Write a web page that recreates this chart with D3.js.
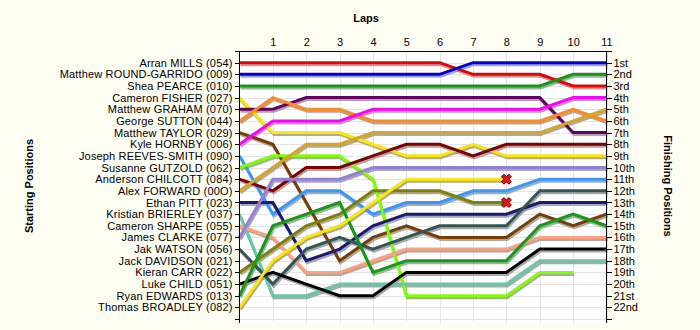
<!DOCTYPE html>
<html>
<head>
<meta charset="utf-8">
<script src="https://cdn.jsdelivr.net/npm/d3@7"></script>
<style>
  html, body { margin: 0; padding: 0; background: #fefdf2; }
  svg { display: block; font-family: "Liberation Sans", Arial, sans-serif; }
  .axis text { font-size: 11px; fill: #000; }
  .axis.left text { letter-spacing: 0.15px; }
  .axis path, .axis line { stroke: #000; shape-rendering: crispEdges; }
  .title { font-size: 11px; font-weight: bold; }
</style>
</head>
<body>
<svg id="chart" width="700" height="330"></svg>
<script>
// Lap numbers shown along the top
const lapTicks = [1, 2, 3, 4, 5, 6, 7, 8, 9, 10, 11];

// Grid order (starting positions 1..22)
const startingGrid = [
  "Arran MILLS (054)", "Matthew ROUND-GARRIDO (009)", "Shea PEARCE (010)",
  "Cameron FISHER (027)", "Matthew GRAHAM (070)", "George SUTTON (044)",
  "Matthew TAYLOR (029)", "Kyle HORNBY (006)", "Joseph REEVES-SMITH (090)",
  "Susanne GUTZOLD (062)", "Anderson CHILCOTT (084)", "Alex FORWARD (00O)",
  "Ethan PITT (023)", "Kristian BRIERLEY (037)", "Cameron SHARPE (055)",
  "James CLARKE (077)", "Jak WATSON (056)", "Jack DAVIDSON (021)",
  "Kieran CARR (022)", "Luke CHILD (051)", "Ryan EDWARDS (013)",
  "Thomas BROADLEY (082)"
];

const finishingLabels = [
  "1st", "2nd", "3rd", "4th", "5th", "6th", "7th", "8th", "9th", "10th", "11th",
  "12th", "13th", "14th", "15th", "16th", "17th", "18th", "19th", "20th", "21st", "22nd"
];

// Position at the end of each lap (index 0 = grid), one array per driver
const millsLaps      = [1, 1, 1, 1, 1, 1, 1, 2, 2, 2, 3, 3];
const roundLaps      = [2, 2, 2, 2, 2, 2, 2, 1, 1, 1, 1, 1];
const pearceLaps     = [3, 3, 3, 3, 3, 3, 3, 3, 3, 3, 2, 2];
const fisherLaps     = [4, 7, 7, 7, 8, 9, 9, 8, 9, 9, 9, 9];
const grahamLaps     = [5, 5, 4, 4, 4, 4, 4, 4, 4, 4, 7, 7];
const suttonLaps     = [6, 4, 5, 5, 6, 6, 6, 6, 6, 6, 5, 6];
const taylorLaps     = [7, 8, 13, 18, 16, 15, 16, 16, 16, 14, 15, 14];
const hornbyLaps     = [8, 6, 6, 6, 5, 5, 5, 5, 5, 5, 4, 4];
const reevesLaps     = [9, 14, 12, 12, 14, 13, 13, 12, 12, 11, 11, 11];
const gutzoldLaps    = [10, 9, 9, 9, 11, 21, 21, 21, 21, 19, 19];
const chilcottLaps   = [11, 12, 10, 10, 9, 8, 8, 9, 8, 8, 8, 8];
const forwardLaps    = [12, 10, 8, 8, 7, 7, 7, 7, 7, 7, 6, 5];
const pittLaps       = [13, 13, 18, 17, 15, 14, 14, 14, 14, 13, 13, 13];
const brierleyLaps   = [14, 21, 21, 20, 20, 20, 20, 20, 20, 18, 18, 18];
const sharpeLaps     = [15, 16, 19, 19, 18, 17, 17, 17, 17, 16, 16, 16];
const clarkeLaps     = [16, 11, 11, 11, 10, 10, 10, 10, 10, 10, 10, 10];
const watsonLaps     = [17, 20, 17, 16, 17, 16, 15, 15, 15, 12, 12, 12];
const davidsonLaps   = [];
const carrLaps       = [19, 17, 15, 14, 12, 12, 12, 13, 13];
const childLaps      = [20, 19, 20, 21, 21, 19, 19, 19, 19, 17, 17, 17];
const edwardsLaps    = [21, 15, 14, 13, 19, 18, 18, 18, 18, 15, 14, 15];
const broadleyLaps   = [22, 18, 16, 15, 13, 11, 11, 11, 11];

const lapHistory = [
  millsLaps, roundLaps, pearceLaps, fisherLaps, grahamLaps, suttonLaps,
  taylorLaps, hornbyLaps, reevesLaps, gutzoldLaps, chilcottLaps, forwardLaps,
  pittLaps, brierleyLaps, sharpeLaps, clarkeLaps, watsonLaps, davidsonLaps,
  carrLaps, childLaps, edwardsLaps, broadleyLaps
];

// Drivers who retired (marked with a cross at their last lap)
const retired = ["Kieran CARR (022)", "Thomas BROADLEY (082)"];

// Line colour per grid slot
const driverColors = [
  "#ee0000", "#0000dd", "#119911", "#ffe800", "#660066", "#ff8a1e",
  "#7a3d00", "#ff00ff", "#3399ff", "#80ff00", "#800000", "#daa520",
  "#1a1a75", "#66c8a8", "#ffa07a", "#9480db", "#335555", "#888888",
  "#808000", "#000000", "#149b14", "#ffe800"
];

const svg = d3.select("#chart");
const plotLeft = 239.5, plotRight = 606.5, plotTop = 51, plotBottom = 319;

const x = d3.scaleLinear().domain([0, 11]).range([plotLeft, plotRight]);
const y = d3.scaleLinear().domain([0, 23]).range([plotTop, plotBottom]);

// Plot background
svg.append("rect")
  .attr("x", plotLeft).attr("y", plotTop)
  .attr("width", plotRight - plotLeft).attr("height", plotBottom - plotTop + 4)
  .attr("fill", "#ffffff");

// Grid
const grid = svg.append("g").attr("shape-rendering", "crispEdges");
grid.selectAll("line.v").data(lapTicks).join("line")
  .attr("class", "v")
  .attr("x1", d => Math.round(x(d)) + 0.5).attr("x2", d => Math.round(x(d)) + 0.5)
  .attr("y1", plotTop).attr("y2", plotBottom + 4)
  .attr("stroke", "#e4e4e4");
grid.selectAll("line.h").data(d3.range(1, 24)).join("line")
  .attr("class", "h")
  .attr("x1", plotLeft).attr("x2", plotRight)
  .attr("y1", d => Math.round(y(d)) + 0.5).attr("y2", d => Math.round(y(d)) + 0.5)
  .attr("stroke", "#e4e4e4");

const series = lapHistory.map((laps, i) => ({
  name: startingGrid[i],
  color: driverColors[i],
  points: laps.map((p, lap) => ({ lap, pos: p }))
})).filter(s => s.points.length > 0);

const line = d3.line().x(d => x(d.lap)).y(d => y(d.pos));

// Drop shadows under the lines
svg.append("g")
  .attr("transform", "translate(1,2)")
  .selectAll("path").data(series).join("path")
  .attr("d", d => line(d.points))
  .attr("fill", "none")
  .attr("stroke", "#949494")
  .attr("stroke-opacity", 0.8)
  .attr("stroke-width", 3)
  .attr("stroke-linejoin", "miter");

svg.append("g")
  .selectAll("path").data(series).join("path")
  .attr("d", d => line(d.points))
  .attr("fill", "none")
  .attr("stroke", d => d.color)
  .attr("stroke-width", 3)
  .attr("stroke-linejoin", "miter");

// Retirement crosses
const crossPath = "M-5,-2.5 L-2.5,-5 L0,-2.5 L2.5,-5 L5,-2.5 L2.5,0 L5,2.5 L2.5,5 L0,2.5 L-2.5,5 L-5,2.5 L-2.5,0 Z";
svg.append("g")
  .selectAll("path").data(series.filter(s => retired.includes(s.name))).join("path")
  .attr("transform", d => {
    const last = d.points[d.points.length - 1];
    return `translate(${x(last.lap)},${y(last.pos)})`;
  })
  .attr("d", crossPath)
  .attr("fill", "#e81010")
  .attr("stroke", "#6a0000")
  .attr("stroke-width", 1);

// Axes
const leftAxis = d3.axisLeft(y)
  .tickValues(d3.range(0, 24))
  .tickFormat(d => startingGrid[d - 1] || "")
  .tickSize(5).tickSizeOuter(0).tickPadding(2);
svg.append("g").attr("class", "axis left").attr("transform", `translate(${plotLeft},0)`)
  .call(leftAxis)
  .call(g => g.select(".domain").attr("d", `M0,${plotTop}V${plotBottom + 4}`));

const rightAxis = d3.axisRight(y)
  .tickValues(d3.range(0, 24))
  .tickFormat(d => finishingLabels[d - 1] || "")
  .tickSize(5).tickSizeOuter(0).tickPadding(2);
svg.append("g").attr("class", "axis").attr("transform", `translate(${plotRight},0)`)
  .call(rightAxis)
  .call(g => g.select(".domain").attr("d", `M0,${plotTop}V${plotBottom + 4}`));

const topAxis = d3.axisTop(x)
  .tickValues(lapTicks)
  .tickSize(0).tickSizeOuter(0).tickPadding(6);
svg.append("g").attr("class", "axis").attr("transform", `translate(0,${plotTop + 0.5})`)
  .call(topAxis)
  .call(g => g.select(".domain").attr("d", `M${plotLeft},0H${plotRight}`));

// Titles
svg.append("text").attr("class", "title")
  .attr("x", 366).attr("y", 22).attr("text-anchor", "middle").text("Laps");
svg.append("text").attr("class", "title")
  .attr("transform", "translate(33,186) rotate(-90)")
  .attr("text-anchor", "middle").text("Starting Positions");
svg.append("text").attr("class", "title")
  .attr("transform", "translate(664,186) rotate(90)")
  .attr("text-anchor", "middle").text("Finishing Positions");
</script>
</body>
</html>
